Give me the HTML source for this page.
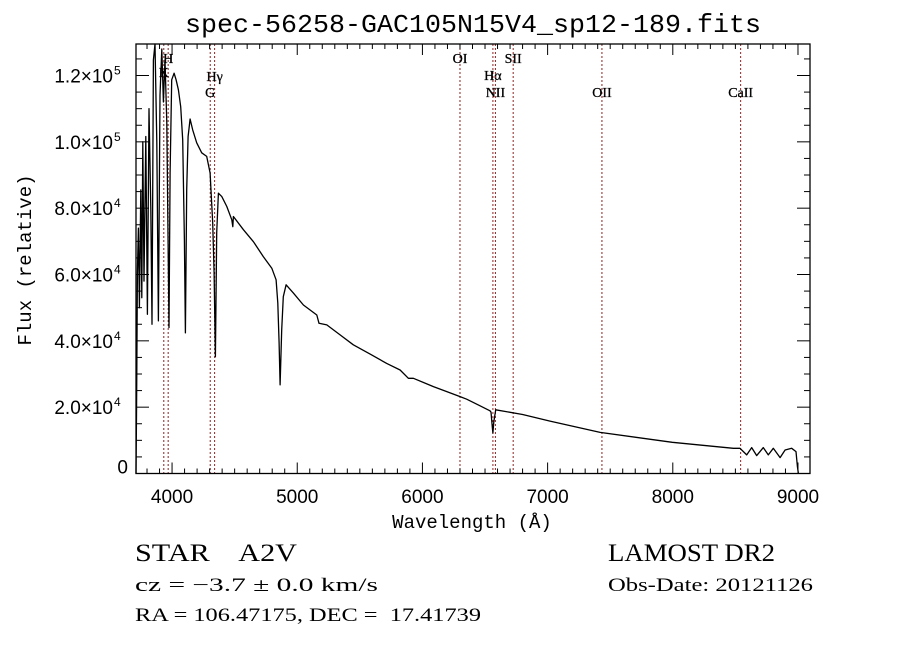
<!DOCTYPE html>
<html><head><meta charset="utf-8"><style>
html,body{margin:0;padding:0;background:#fff;}
svg{display:block;}
text{white-space:pre;}
</style></head><body>
<svg id="chart" width="900" height="649" xmlns="http://www.w3.org/2000/svg" font-family="Liberation Sans, sans-serif">
<rect width="900" height="649" fill="#fff"/>
<text x="473" y="32" font-family="Liberation Mono, monospace" font-size="26" text-anchor="middle" textLength="576" lengthAdjust="spacingAndGlyphs">spec-56258-GAC105N15V4_sp12-189.fits</text>
<g id="lines"></g>
<g id="series"></g>
<g id="axes"></g>
<text x="472" y="528" font-family="Liberation Mono, monospace" font-size="19" text-anchor="middle">Wavelength (Å)</text>
<text transform="translate(31,260) rotate(-90)" font-family="Liberation Mono, monospace" font-size="19" text-anchor="middle">Flux (relative)</text>
<g font-family="Liberation Serif, serif">
<text x="135" y="561" font-size="25" textLength="162" lengthAdjust="spacingAndGlyphs">STAR    A2V</text>
<text x="135" y="591" font-size="19" textLength="243" lengthAdjust="spacingAndGlyphs">cz = −3.7 ± 0.0 km/s</text>
<text x="135" y="621" font-size="19" textLength="346" lengthAdjust="spacingAndGlyphs">RA = 106.47175, DEC =  17.41739</text>
<text x="608" y="561" font-size="25" textLength="167" lengthAdjust="spacingAndGlyphs">LAMOST DR2</text>
<text x="608" y="591" font-size="19" textLength="205" lengthAdjust="spacingAndGlyphs">Obs-Date: 20121126</text>
</g>
</svg>
<script>
const wavelengths=[3712,3716,3718,3723,3731,3739,3750,3758,3766,3776,3790,3803,3816,3830,3840,3851,3864,3878,3891,3904,3918,3931,3944,3958,3976,3984,3997,4016,4032,4051,4069,4085,4099,4107,4117,4128,4144,4165,4197,4237,4277,4304,4325,4336,4346,4357,4370,4397,4437,4477,4485,4490,4570,4650,4729,4797,4831,4845,4855,4863,4876,4889,4911,4969,5049,5156,5174,5236,5342,5448,5582,5715,5822,5888,5928,6088,6195,6301,6354,6450,6540,6548,6558,6563,6570,6585,6800,7019,7419,7996,8484,8537,8590,8630,8670,8723,8763,8803,8857,8897,8950,8984,8995,9003];
const fluxK=[0,17.6,30,60.5,74,50,85.5,53,100,58,101.6,48,110,80,45,124.7,129.5,100,46,114,128,112,124.7,105.7,44,90.6,118.7,120.7,118.7,115.7,110.6,100.6,70.4,42.4,85.5,101.6,106.9,103.6,99.7,96.7,95.6,90.6,75.6,60.5,35.2,72.5,84.5,83.5,80.5,76.5,74.4,77.5,73.5,69.9,65.4,61.9,58.4,51.4,39.4,26.7,43.3,53.3,56.9,54.4,50.8,47.8,45.3,44.8,41.8,38.8,36.0,33.2,31.2,28.7,28.7,26.2,24.7,23.2,22.4,20.6,18.9,18.5,14,12.2,15.5,19.2,17.8,15.8,12.4,9.4,7.6,7.6,5.6,7.8,5.4,7.8,5.6,7.6,4.8,7.1,7.6,6.6,2.1,0];
const xTicks=[4000,5000,6000,7000,8000,9000];
const yTicks=[0,20000,40000,60000,80000,100000,120000];
const yTickLabels=["0","2.0","4.0","6.0","8.0","1.0","1.2"];
const yTickExp=["","4","4","4","4","5","5"];
const lineNames=["H","K","Hγ","G","OI","Hα","NII","SII","OII","CaII"];
const lineWaves=[3969,3934,4340,4305,6300,6563,6583,6725,7434,8542];
const NS="http://www.w3.org/2000/svg";
const L=136,R=810,T=44,B=473.5;
const XMIN=3712,XMAX=9096,YMIN=0,YMAX=129500;
function xs(w){return L+(w-XMIN)/(XMAX-XMIN)*(R-L);}
function ys(f){return B-(f-YMIN)/(YMAX-YMIN)*(B-T);}
function mk(tag,attrs,parent){const e=document.createElementNS(NS,tag);for(const k in attrs)e.setAttribute(k,attrs[k]);parent.appendChild(e);return e;}
const axes=document.getElementById('axes'),series=document.getElementById('series'),lines=document.getElementById('lines');
const labelRow={"H":58,"K":72,"Hγ":76,"G":92,"OI":58,"Hα":75,"NII":92,"SII":58,"OII":92,"CaII":92};
lineWaves.forEach((w,i)=>{
  const x=xs(w);
  const ln=mk('line',{x1:x,x2:x,y1:T,y2:B,stroke:'#8b2323','stroke-width':1,'stroke-dasharray':'2,2'},lines);
  
  
  const t=mk('text',{x:x,y:labelRow[lineNames[i]]+5,'font-size':14,'font-family':'Liberation Serif, serif','text-anchor':'middle','stroke':'#000','stroke-width':0.3},lines);
  t.textContent=lineNames[i];
  
  
});
let d='';
wavelengths.forEach((w,i)=>{d+=(i?'L':'M')+xs(w).toFixed(1)+','+Math.max(T,ys(fluxK[i]*1000)).toFixed(1);});
const p=mk('path',{d:d,fill:'none',stroke:'#000','stroke-width':1.3,'stroke-linejoin':'round'},series);


const fr=mk('rect',{x:L,y:T,width:R-L,height:B-T,fill:'none',stroke:'#000','stroke-width':1.3},axes);


for(let w=3800;w<=XMAX;w+=100){
  const x=xs(w),major=(w%1000===0),len=major?11:5;
  mk('line',{x1:x,x2:x,y1:B,y2:B-len,stroke:'#000'},axes);
  mk('line',{x1:x,x2:x,y1:T,y2:T+len,stroke:'#000'},axes);
}
xTicks.forEach(w=>{
  const t=mk('text',{x:xs(w),y:503,'font-size':19,'text-anchor':'middle'},axes);
  t.textContent=String(w);
  
  
});
for(let f=0;f<=YMAX;f+=5000){
  const y=ys(f),major=(f%20000===0),len=major?13:6;
  mk('line',{x1:L,x2:L+len,y1:y,y2:y,stroke:'#000'},axes);
  mk('line',{x1:R,x2:R-len,y1:y,y2:y,stroke:'#000'},axes);
}
yTicks.forEach((f,i)=>{
  const y=ys(f);
  const t=mk('text',{x:yTickExp[i]?113:128,y:yTickExp[i]?y+7:y,'font-size':19,'text-anchor':'end'},axes);
  t.textContent=yTickLabels[i]+(yTickExp[i]?'×10':'');
  
  
  if(yTickExp[i]){
    const e=mk('text',{x:114,y:y-1,'font-size':12},axes);
    e.textContent=yTickExp[i];
    
    
  }
});
</script>
</body></html>
